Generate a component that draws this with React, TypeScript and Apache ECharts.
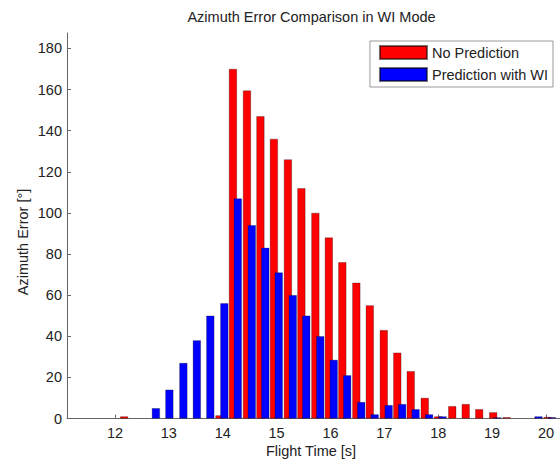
import React, { useEffect, useRef } from "react";
import * as echarts from "echarts";

const titleText = "Azimuth Error Comparison in WI Mode";
const xTitle = "Flight Time [s]";
const yTitle = "Azimuth Error [°]";
const seriesNames = ["No Prediction", "Prediction with WI"];

const xTicks = [12, 13, 14, 15, 16, 17, 18, 19, 20];
const yTicks = [0, 20, 40, 60, 80, 100, 120, 140, 160, 180];

// No Prediction (red) histogram bins
const redX = [12.17, 13.94, 14.19, 14.45, 14.70, 14.95, 15.21, 15.46, 15.72, 15.97, 16.22, 16.48, 16.73, 16.99, 17.24, 17.49, 17.75, 18.00, 18.26, 18.51, 18.76, 19.02, 19.27, 20.03];
const redY = [1, 1.5, 170, 159.5, 147, 136, 126, 112, 100, 88, 76, 66, 55, 43, 32, 23, 10, 1, 6, 7, 4.5, 3, 0.6, 0.7];

// Prediction with WI (blue) histogram bins
const blueX = [12.76, 13.01, 13.27, 13.52, 13.77, 14.03, 14.28, 14.54, 14.79, 15.04, 15.30, 15.55, 15.81, 16.06, 16.31, 16.57, 16.82, 17.08, 17.33, 17.58, 17.83, 18.08, 19.10, 19.86, 20.11];
const blueY = [5, 14, 27, 38, 50, 56, 107, 94, 83, 71, 60, 50, 40, 28.5, 21, 8, 2, 6.5, 7, 4.5, 2, 1, 0.5, 1, 0.6];

const FONT = "'Liberation Sans', Arial, Helvetica, sans-serif";
const TEXT_COLOR = "#222";
const AXIS_COLOR = "#666";

export default function App() {
  const ref = useRef<HTMLDivElement>(null);

  useEffect(() => {
    if (!ref.current) return;
    const chart = echarts.init(ref.current, null, { renderer: "svg" });
    const option = {
      animation: false,
      backgroundColor: "#ffffff",
      textStyle: { fontFamily: FONT },
      grid: { left: 67, top: 33, right: 0, bottom: 42.5, containLabel: false },
      legend: {
        orient: "vertical",
        right: 7,
        top: 41,
        itemWidth: 47,
        itemHeight: 13,
        itemGap: 7,
        padding: [4, 5, 5, 9],
        borderColor: "#999",
        borderWidth: 1,
        backgroundColor: "#fff",
        icon: "rect",
        textStyle: { fontSize: 14.5, color: TEXT_COLOR, fontFamily: FONT },
        data: seriesNames,
      },
      xAxis: {
        type: "value",
        min: 11.11,
        max: 20.26,
        splitLine: { show: false },
        axisLine: { show: true, lineStyle: { color: AXIS_COLOR, width: 1 } },
        axisTick: { show: true, inside: true, length: 4, customValues: xTicks, lineStyle: { color: AXIS_COLOR } },
        axisLabel: { customValues: xTicks, fontSize: 14.5, color: TEXT_COLOR, margin: 7, fontFamily: FONT },
      },
      yAxis: {
        type: "value",
        min: 0,
        max: 187.5,
        splitLine: { show: false },
        axisLine: { show: true, lineStyle: { color: AXIS_COLOR, width: 1 } },
        axisTick: { show: true, inside: true, length: 4, customValues: yTicks, lineStyle: { color: AXIS_COLOR } },
        axisLabel: { customValues: yTicks, fontSize: 14.5, color: TEXT_COLOR, margin: 5, fontFamily: FONT },
      },
      graphic: [
        {
          type: "text",
          x: 311.5,
          y: 17,
          style: { text: titleText, fontSize: 14.5, fill: TEXT_COLOR, font: `14.5px ${FONT}`, textAlign: "center", textVerticalAlign: "middle" },
        },
        {
          type: "text",
          x: 311,
          y: 451,
          style: { text: xTitle, fontSize: 14.5, fill: TEXT_COLOR, font: `14.5px ${FONT}`, textAlign: "center", textVerticalAlign: "middle" },
        },
        {
          type: "text",
          x: 23,
          y: 242,
          rotation: Math.PI / 2,
          style: { text: yTitle, fontSize: 14.5, fill: TEXT_COLOR, font: `14.5px ${FONT}`, textAlign: "center", textVerticalAlign: "middle" },
        },
      ],
      series: [
        {
          name: seriesNames[0],
          type: "bar",
          barWidth: 8,
          barGap: "-100%",
          itemStyle: { color: "#ff0000", borderColor: "rgba(0,0,0,0.55)", borderWidth: 0.5 },
          data: redX.map((x, i) => [x, redY[i]]),
        },
        {
          name: seriesNames[1],
          type: "bar",
          barWidth: 8,
          barGap: "-100%",
          itemStyle: { color: "#0000ff", borderColor: "rgba(0,0,0,0.55)", borderWidth: 0.5 },
          data: blueX.map((x, i) => [x, blueY[i]]),
        },
      ],
    };
    chart.setOption(option as any);
    return () => chart.dispose();
  }, []);

  return (
    <div
      ref={ref}
      style={{ position: "fixed", left: 0, top: 0, width: 560, height: 461, background: "#fff" }}
    />
  );
}
